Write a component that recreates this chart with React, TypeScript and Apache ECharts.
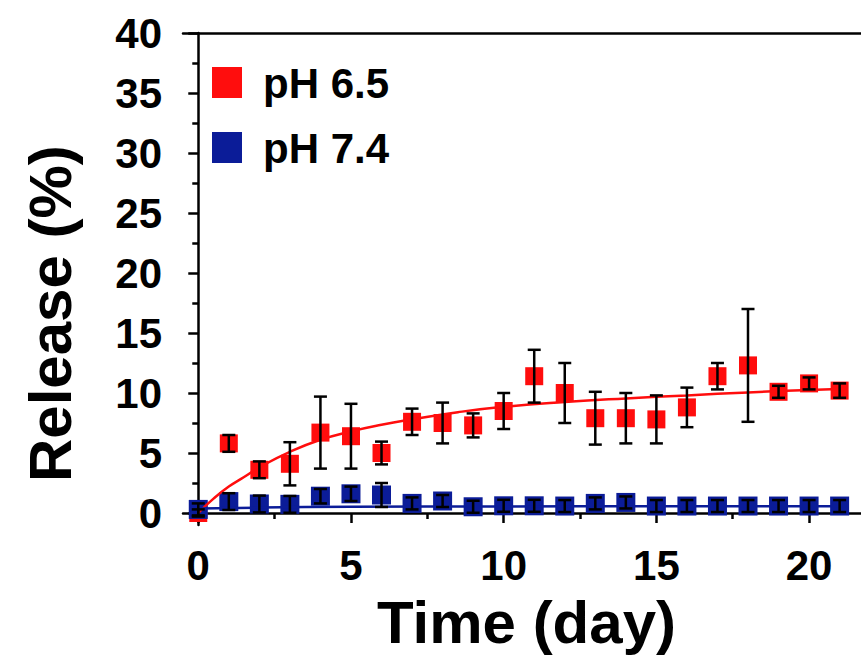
import React, { useEffect, useRef } from "react";
import * as echarts from "echarts";

const days = [0, 1, 2, 3, 4, 5, 6, 7, 8, 9, 10, 11, 12, 13, 14, 15, 16, 17, 18, 19, 20, 21];
const ph65 = [0, 5.8, 3.6, 4.1, 6.7, 6.4, 5.0, 7.6, 7.5, 7.3, 8.5, 11.4, 10.0, 7.9, 7.9, 7.8, 8.8, 11.4, 12.3, 10.1, 10.8, 10.2];
const ph65Err = [0.3, 0.7, 0.7, 1.8, 3.0, 2.7, 0.95, 1.1, 1.7, 1.0, 1.5, 2.2, 2.5, 2.2, 2.1, 2.0, 1.65, 1.1, 4.7, 0.5, 0.5, 0.6];
const ph74 = [0.3, 0.95, 0.75, 0.72, 1.4, 1.6, 1.5, 0.8, 1.0, 0.52, 0.6, 0.6, 0.58, 0.8, 0.88, 0.58, 0.58, 0.58, 0.58, 0.58, 0.58, 0.58];
const ph74Err = [0.5, 0.7, 0.7, 0.7, 0.6, 0.6, 1.0, 0.5, 0.5, 0.5, 0.5, 0.5, 0.5, 0.5, 0.5, 0.5, 0.5, 0.5, 0.5, 0.5, 0.5, 0.5];

const fit65Days = [0, 0.5, 1, 1.5, 2, 3, 4, 5, 6, 7, 8.5, 10, 12, 14, 16, 18, 20, 21.2];
const fit65 = [0, 1.2, 2.2, 3.0, 3.8, 5.1, 6.1, 6.8, 7.35, 7.8, 8.4, 8.85, 9.25, 9.55, 9.8, 10.05, 10.25, 10.35];
const fit74Days = [0, 2, 5, 10, 15, 21.2];
const fit74 = [0.38, 0.45, 0.52, 0.55, 0.56, 0.57];

const legendNames = ["pH 6.5", "pH 7.4"];
const xMajor = [0, 5, 10, 15, 20];
const xMinor = [2.5, 7.5, 12.5, 17.5];
const yMajor = [0, 5, 10, 15, 20, 25, 30, 35, 40];
const yMinor = [2.5, 7.5, 12.5, 17.5, 22.5, 27.5, 32.5, 37.5];

const RED = "#ff0d0d";
const BLUE = "#0b1c98";
const FONT = "'Liberation Sans', Arial, sans-serif";

const pairs = (xs: number[], ys: number[]) => xs.map((x, i) => [x, ys[i]]);
const errData = (ys: number[], es: number[]) => days.map((d, i) => [d, ys[i] - es[i], ys[i] + es[i]]);

const errSeries = (name: string, data: number[][], z: number) => ({
  type: "custom",
  name,
  z,
  silent: true,
  data,
  encode: { x: 0, y: [1, 2] },
  renderItem: (params: any, api: any) => {
    const x = api.value(0);
    const lo = api.coord([x, api.value(1)]);
    const hi = api.coord([x, api.value(2)]);
    const cap = 6.5;
    const style = { stroke: "#000", lineWidth: 2.5 };
    return {
      type: "group",
      children: [
        { type: "line", shape: { x1: lo[0], y1: lo[1], x2: hi[0], y2: hi[1] }, style },
        { type: "line", shape: { x1: lo[0] - cap, y1: lo[1], x2: lo[0] + cap, y2: lo[1] }, style },
        { type: "line", shape: { x1: hi[0] - cap, y1: hi[1], x2: hi[0] + cap, y2: hi[1] }, style },
      ],
    };
  },
});

export default function App() {
  const ref = useRef<HTMLDivElement>(null);
  useEffect(() => {
    if (!ref.current) return;
    const chart = echarts.init(ref.current, null, { renderer: "svg" });
    const axisLine = { show: true, lineStyle: { color: "#000", width: 2.5 } };
    const labelStyle = { color: "#000", fontSize: 42, fontWeight: "bold", fontFamily: FONT };
    const xCommon = { type: "value", min: -0.5, max: 21.7, position: "bottom", splitLine: { show: false } };
    const yCommon = { type: "value", min: -1, max: 40, position: "left", splitLine: { show: false } };
    const legendColors = [RED, BLUE];
    const legendGraphics: any[] = [];
    legendNames.forEach((name, i) => {
      legendGraphics.push({
        type: "rect",
        shape: { x: 212, y: 67 + i * 65, width: 30, height: 31 },
        style: { fill: legendColors[i] },
      });
      legendGraphics.push({
        type: "text",
        x: 263,
        y: 83 + i * 65,
        style: { text: name, fill: "#000", font: `bold 42px ${FONT}`, textVerticalAlign: "middle" },
      });
    });
    chart.setOption({
      animation: false,
      backgroundColor: "#fff",
      grid: { left: 183, right: 0, top: 33, bottom: 135, containLabel: false },
      xAxis: [
        {
          ...xCommon,
          axisLine,
          axisTick: { show: true, inside: false, length: 10, customValues: xMajor, lineStyle: { color: "#000", width: 2.5 } },
          axisLabel: { ...labelStyle, margin: 19, customValues: xMajor },
        },
        {
          ...xCommon,
          axisLine: { show: false },
          axisTick: { show: true, inside: false, length: 6, customValues: xMinor, lineStyle: { color: "#000", width: 2.5 } },
          axisLabel: { show: false },
        },
        {
          ...xCommon,
          position: "top",
          axisLine,
          axisTick: { show: false },
          axisLabel: { show: false },
        },
      ],
      yAxis: [
        {
          ...yCommon,
          axisLine,
          axisTick: { show: true, inside: false, length: 10, customValues: yMajor, lineStyle: { color: "#000", width: 2.5 } },
          axisLabel: { ...labelStyle, margin: 21, customValues: yMajor },
        },
        {
          ...yCommon,
          axisLine: { show: false },
          axisTick: { show: true, inside: false, length: 6, customValues: yMinor, lineStyle: { color: "#000", width: 2.5 } },
          axisLabel: { show: false },
        },
      ],
      graphic: [
        {
          type: "text",
          left: 377,
          top: 592,
          style: { text: "Time (day)", fill: "#000", font: `bold 60px ${FONT}` },
        },
        {
          type: "text",
          x: 20,
          y: 482,
          rotation: Math.PI / 2,
          style: { text: "Release (%)", fill: "#000", font: `bold 60px ${FONT}`, textVerticalAlign: "top" },
        },
        ...legendGraphics,
      ],
      series: [
        {
          type: "scatter",
          name: legendNames[0],
          symbol: "rect",
          symbolSize: 18,
          z: 2,
          itemStyle: { color: RED, opacity: 1 },
          data: pairs(days, ph65),
        },
        {
          type: "scatter",
          name: legendNames[1],
          symbol: "rect",
          symbolSize: 19,
          z: 3,
          itemStyle: { color: BLUE, opacity: 1 },
          data: pairs(days, ph74),
        },
        {
          type: "line",
          name: "fit 6.5",
          smooth: true,
          showSymbol: false,
          z: 4,
          lineStyle: { color: RED, width: 2.5 },
          data: pairs(fit65Days, fit65),
        },
        {
          type: "line",
          name: "fit 7.4",
          smooth: true,
          showSymbol: false,
          z: 4,
          lineStyle: { color: BLUE, width: 2.5 },
          data: pairs(fit74Days, fit74),
        },
        errSeries("err 6.5", errData(ph65, ph65Err), 5),
        errSeries("err 7.4", errData(ph74, ph74Err), 5),
      ],
    });
    return () => chart.dispose();
  }, []);
  return (
    <div
      ref={ref}
      style={{ position: "fixed", left: 0, top: 0, width: 861, height: 660, background: "#fff" }}
    />
  );
}
